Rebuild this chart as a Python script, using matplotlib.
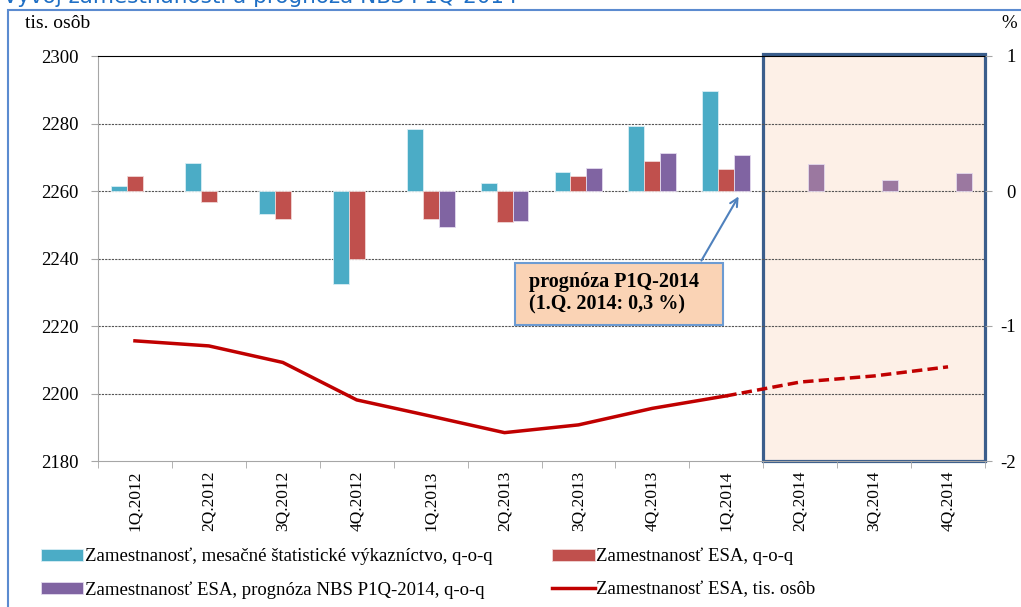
"""
Vyvoj zamestnanosti a prognoza NBS P1Q-2014 (bars in %, line in tis. osob)
"""

import numpy as np
import matplotlib.pyplot as plt
from matplotlib.patches import Rectangle, FancyArrowPatch

plt.rcParams['font.family'] = ['Liberation Serif', 'DejaVu Serif']
plt.rcParams['axes.unicode_minus'] = False

quarters = ['1Q.2012', '2Q.2012', '3Q.2012', '4Q.2012', '1Q.2013', '2Q.2013',
            '3Q.2013', '4Q.2013', '1Q.2014', '2Q.2014', '3Q.2014', '4Q.2014']
nan = np.nan
# q-o-q growth, %
stat_vykaz = [0.04, 0.21, -0.17, -0.69, 0.46, 0.06, 0.14, 0.48, 0.74, nan, nan, nan]
esa_qoq = [0.11, -0.08, -0.21, -0.50, -0.21, -0.23, 0.11, 0.22, 0.16, nan, nan, nan]
esa_prog = [nan, nan, nan, nan, -0.27, -0.22, 0.17, 0.28, 0.27, 0.20, 0.08, 0.13]
# employment ESA, thousands
esa_level = [2215.6, 2214.1, 2209.2, 2198.1, 2193.3, 2188.4,
             2190.7, 2195.6, 2199.3, 2203.4, 2205.2, 2207.9]
n_actual = 9  # last actual quarter is 1Q.2014

W, H = 1021, 607
fig = plt.figure(figsize=(W/100, H/100), dpi=100)
ax = fig.add_axes([98/W, 1-461/H, (985-98)/W, (461-56)/H])
ax2 = ax.twinx()

x = np.arange(len(quarters))
bw = 0.216
gray = '#A6A6A6'
fs = 13.5

# forecast region
ax.add_patch(Rectangle((n_actual-0.5, 2180), 3, 120.6, facecolor='#FDF0E7',
                       edgecolor='#3B5E8C', lw=2.3, zorder=0.3, clip_on=False))

# line, actual solid + forecast dashed
ax.plot(x[:n_actual], esa_level[:n_actual], color='#C00000', lw=2.5, zorder=2,
        label='Zamestnanosť ESA, tis. osôb')
ax.plot(x[n_actual-1:], esa_level[n_actual-1:], color='#C00000', lw=2.5,
        ls=(0, (3, 1.5)), zorder=2)

# bars
prog_colors = ['#8064A2']*n_actual + ['#9B78A0']*(len(x)-n_actual)
b1 = ax2.bar(x-bw, stat_vykaz, bw, color='#4BACC6', edgecolor='#D8EEF4', lw=0.6,
             label='Zamestnanosť, mesačné štatistické výkazníctvo, q-o-q')
b2 = ax2.bar(x, esa_qoq, bw, color='#C0504D', edgecolor='#F0D6D5', lw=0.6,
             label='Zamestnanosť ESA, q-o-q')
b3 = ax2.bar(x+bw, esa_prog, bw, color=prog_colors, edgecolor='#E4DAEE', lw=0.6,
             label='Zamestnanosť ESA, prognóza NBS P1Q-2014, q-o-q')

# axes
ax.set_xlim(-0.5, len(x)-0.5)
ax.set_ylim(2180, 2300)
ax2.set_ylim(-2, 1)
ax.set_yticks(np.arange(2180, 2301, 20))
ax2.set_yticks([-2, -1, 0, 1])
ax.set_axisbelow(True)
for yv in range(2200, 2300, 20):
    ax.axhline(yv, color='#555555', lw=0.8, ls=(0, (2, 1)), zorder=0.5)

ax.set_xticks(x)
ax.set_xticklabels(quarters, rotation=90, fontsize=fs-1)
ax.set_xticks(np.arange(-0.5, len(x)), minor=True)
ax.tick_params(axis='x', which='major', length=0, pad=7)
ax.tick_params(axis='x', which='minor', length=5, color=gray, direction='out')
ax.tick_params(axis='y', length=5, color=gray, labelsize=fs, pad=9)
ax2.tick_params(axis='y', length=5, color=gray, labelsize=fs, pad=17)
for lab in ax2.get_yticklabels():
    lab.set_horizontalalignment('right')

for s in ['left', 'bottom']:
    ax.spines[s].set_color(gray)
ax.spines['top'].set_color('black')
ax.spines['right'].set_visible(False)
for s in ax2.spines.values():
    s.set_visible(False)

fig.text(25/W, 1-24/H, 'tis. osôb', fontsize=fs+0.5, va='center')
fig.text(1001/W, 1-24/H, '%', fontsize=fs, va='center')

# annotation box + arrow
fig.add_artist(Rectangle((515/W, 1-325/H), 208/W, 62/H, transform=fig.transFigure,
                         facecolor='#FAD3B5', edgecolor='#6C9BD2', lw=1.5))
fig.text(529/W, 1-282/H, 'prognóza P1Q-2014', fontsize=14.5, fontweight='bold', va='center')
fig.text(529/W, 1-304/H, '(1.Q. 2014: 0,3 %)', fontsize=14.5, fontweight='bold', va='center')
fig.add_artist(FancyArrowPatch((700/W, 1-263/H), (740/W, 1-194/H), transform=fig.transFigure,
                               arrowstyle='->', mutation_scale=14, color='#4F81BD', lw=1.5))

# legend
handles = [b1, b3, b2, ax.lines[0]]
fig.legend(handles, [h.get_label() for h in handles], ncol=2, loc='upper left',
           bbox_to_anchor=(24/W, 1-531/H), frameon=False, fontsize=fs,
           handlelength=2.25, handleheight=0.6, handletextpad=0.1,
           labelspacing=0.85, columnspacing=3.2)

# outer frame and clipped title
fig.add_artist(Rectangle((8/W, -0.05), 1.2, 1.05-10/H, transform=fig.transFigure,
                         fill=False, edgecolor='#5B8BD0', lw=1.5))
fig.text(3/W, 1-3/H, 'Vývoj zamestnanosti a prognóza NBS P1Q-2014', family='DejaVu Sans',
         fontsize=15.5, color='#1F6FC5', va='baseline')

fig.savefig('out.png', dpi=100)
